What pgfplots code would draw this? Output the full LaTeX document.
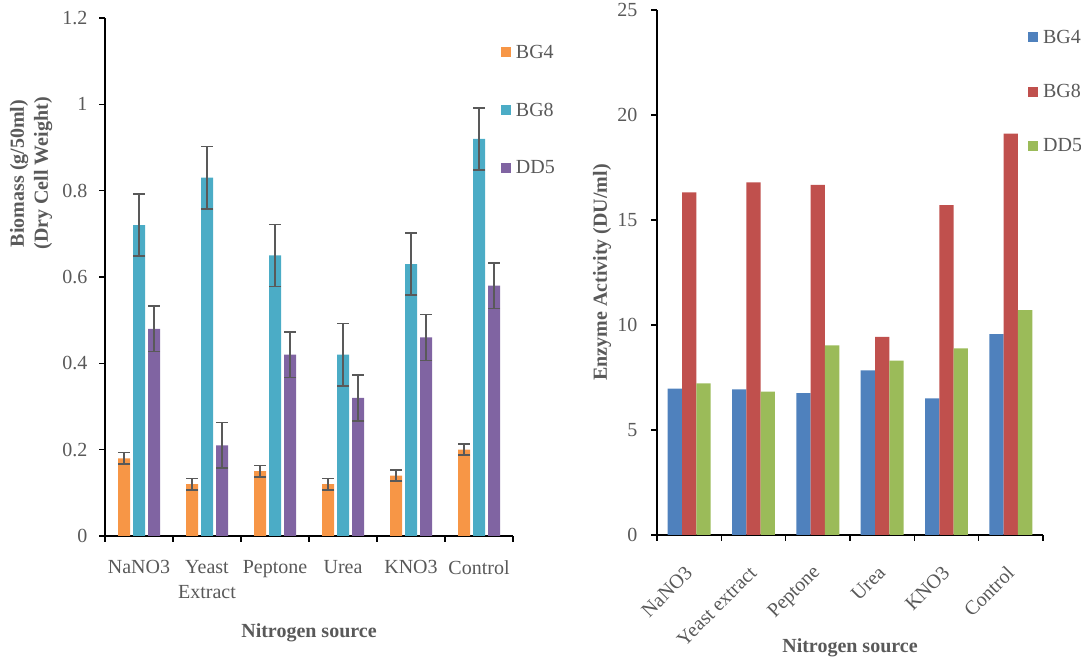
\documentclass[border=0pt]{standalone}
\usepackage{pgfplots}
\pgfplotsset{compat=1.18}
\usepackage{fontspec}
\setmainfont{Liberation Serif}
\definecolor{txtgray}{HTML}{595959}
\definecolor{errgray}{HTML}{595959}
\definecolor{lorange}{HTML}{F79646}
\definecolor{lteal}{HTML}{4BACC6}
\definecolor{lpurple}{HTML}{8064A2}
\definecolor{rblue}{HTML}{4F81BD}
\definecolor{rred}{HTML}{C0504D}
\definecolor{rgreen}{HTML}{9BBB59}
\pgfplotsset{
  common/.style={
    scale only axis,
    axis x line*=bottom, axis y line*=left,
    axis line style={line width=1.4pt, black},
    tick align=outside,
    /pgf/number format/assume math mode=true,
    tick label style={font=\fontsize{20}{25}\selectfont, text=txtgray},
    label style={font=\fontsize{20}{24}\selectfont\bfseries, text=txtgray},
    xmin=-0.5, xmax=5.5, ymin=0,
    xtick={0,1,2,3,4,5},
    major x tick style={draw=none},
    minor xtick={-0.5,0.5,1.5,2.5,3.5,4.5,5.5},
    minor tick length=6pt, major tick length=6pt,
    every tick/.style={line width=1.4pt, black},
    legend style={draw=none, fill=none, font=\fontsize{20}{24}\selectfont, text=txtgray,
      inner sep=0pt, column sep=3pt, cells={anchor=west}},
  },
  sqlegend/.style={legend image code/.code={\fill[##1,draw=none] (0pt,-5pt) rectangle (10pt,5pt);}},
  errs/.style={error bars/.cd, y dir=both, y explicit,
    error bar style={line width=1.6pt, errgray},
    error mark options={rotate=90, mark size=6pt, line width=1.6pt, errgray}},
}
\begin{document}
\begin{tikzpicture}
\path[use as bounding box] (0,0) rectangle (1081pt,660pt);
% ---------------- left chart ----------------
\begin{axis}[common,
  at={(105pt,124pt)}, anchor=south west,
  width=408pt, height=518pt,
  ymax=1.2, ytick={0,0.2,0.4,0.6,0.8,1,1.2},
  ybar=3pt, bar width=12pt,
  every axis plot post/.append style={sqlegend},
  xticklabels={NaNO3,{Yeast\\Extract},Peptone,Urea,KNO3,Control},
  xticklabel style={align=center, anchor=north, yshift=-15pt},
  yticklabel style={xshift=-8pt},
  ylabel={Biomass (g/50ml)\\(Dry Cell Weight)},
  ylabel style={align=center, at={(axis description cs:-0.181,0.70)}, anchor=center},
  xlabel={Nitrogen source},
  xlabel style={at={(axis description cs:0.5,-0.187)}, anchor=center},
  legend style={at={(0.97,0.952)}, anchor=north west, row sep=39pt},
  legend cell align=left,
]
\addplot[fill=lorange, draw=none, errs] coordinates {
 (0,0.18) +- (0,0.013) (1,0.12) +- (0,0.013) (2,0.15) +- (0,0.013)
 (3,0.12) +- (0,0.013) (4,0.14) +- (0,0.013) (5,0.20) +- (0,0.013)};
\addplot[fill=lteal, draw=none, errs] coordinates {
 (0,0.72) +- (0,0.072) (1,0.83) +- (0,0.072) (2,0.65) +- (0,0.072)
 (3,0.42) +- (0,0.072) (4,0.63) +- (0,0.072) (5,0.92) +- (0,0.072)};
\addplot[fill=lpurple, draw=none, errs] coordinates {
 (0,0.48) +- (0,0.053) (1,0.21) +- (0,0.053) (2,0.42) +- (0,0.053)
 (3,0.32) +- (0,0.053) (4,0.46) +- (0,0.053) (5,0.58) +- (0,0.053)};
\legend{BG4,BG8,DD5}
\end{axis}
% ---------------- right chart ----------------
\begin{axis}[common,
  at={(657pt,125pt)}, anchor=south west,
  width=386pt, height=525pt,
  ymax=25, ytick={0,5,10,15,20,25},
  ybar=0pt, bar width=14.3pt,
  every axis plot post/.append style={sqlegend},
  xticklabels={NaNO3,Yeast extract,Peptone,Urea,KNO3,Control},
  xticklabel style={rotate=45, anchor=east, xshift=-17pt, yshift=-20pt},
  yticklabel style={xshift=-10pt},
  ylabel={Enzyme Activity (DU/ml)},
  ylabel style={at={(axis description cs:-0.1425,0.5)}, anchor=center},
  xlabel={Nitrogen source},
  xlabel style={at={(axis description cs:0.5,-0.215)}, anchor=center},
  legend style={at={(0.961,0.966)}, anchor=north west, row sep=35.5pt},
]
\addplot[fill=rblue, draw=none] coordinates {
 (0,6.97) (1,6.94) (2,6.75) (3,7.84) (4,6.51) (5,9.57)};
\addplot[fill=rred, draw=none] coordinates {
 (0,16.32) (1,16.79) (2,16.67) (3,9.43) (4,15.71) (5,19.11)};
\addplot[fill=rgreen, draw=none] coordinates {
 (0,7.22) (1,6.83) (2,9.03) (3,8.30) (4,8.89) (5,10.71)};
\legend{BG4,BG8,DD5}
\end{axis}
\end{tikzpicture}
\end{document}
